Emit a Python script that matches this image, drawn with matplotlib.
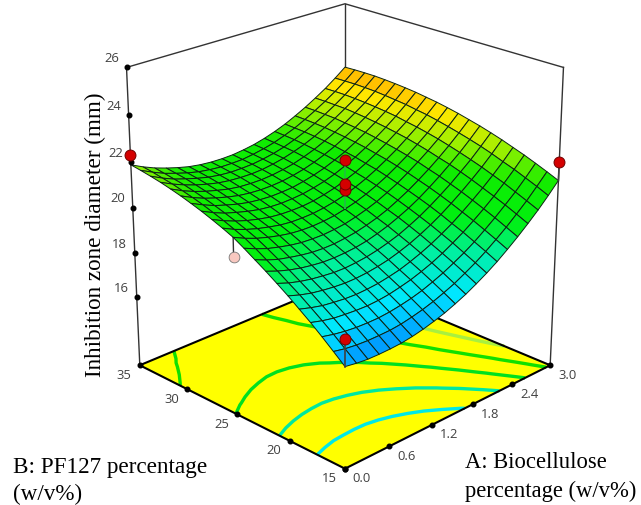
import numpy as np
import matplotlib
matplotlib.use("Agg")
import matplotlib.pyplot as plt
from matplotlib.colors import LinearSegmentedColormap, Normalize
from mpl_toolkits.mplot3d import proj3d

# grid values
a_values = [0.0, 0.15, 0.3, 0.45, 0.6, 0.75, 0.9, 1.05, 1.2, 1.35, 1.5, 1.65, 1.8, 1.95, 2.1, 2.25, 2.4, 2.55, 2.7, 2.85, 3.0]
b_values = [15, 16, 17, 18, 19, 20, 21, 22, 23, 24, 25, 26, 27, 28, 29, 30, 31, 32, 33, 34, 35]
z_rows = [
	[17.20,17.12,17.07,17.06,17.07,17.10,17.17,17.27,17.40,17.55,17.74,17.95,18.20,18.47,18.77,19.11,19.47,19.86,20.27,20.72,21.20],
	[17.53,17.44,17.39,17.37,17.38,17.40,17.46,17.56,17.68,17.83,18.01,18.21,18.46,18.72,19.02,19.35,19.70,20.09,20.49,20.94,21.41],
	[17.85,17.76,17.70,17.67,17.67,17.69,17.75,17.84,17.95,18.09,18.27,18.47,18.71,18.96,19.25,19.58,19.93,20.31,20.70,21.14,21.61],
	[18.16,18.06,17.99,17.97,17.96,17.97,18.02,18.10,18.22,18.35,18.52,18.71,18.94,19.20,19.48,19.80,20.14,20.51,20.91,21.34,21.80],
	[18.45,18.35,18.27,18.24,18.22,18.23,18.28,18.35,18.46,18.58,18.75,18.94,19.16,19.41,19.68,20.00,20.34,20.70,21.09,21.51,21.97],
	[18.74,18.63,18.55,18.51,18.49,18.49,18.53,18.60,18.70,18.82,18.98,19.16,19.38,19.62,19.89,20.20,20.53,20.89,21.27,21.69,22.14],
	[19.01,18.89,18.81,18.76,18.74,18.73,18.76,18.83,18.92,19.04,19.19,19.36,19.58,19.81,20.08,20.38,20.70,21.06,21.43,21.85,22.29],
	[19.27,19.15,19.06,19.00,18.97,18.96,18.99,19.05,19.13,19.24,19.39,19.56,19.77,19.99,20.25,20.55,20.87,21.22,21.58,21.99,22.43],
	[19.51,19.38,19.28,19.23,19.19,19.17,19.19,19.24,19.33,19.43,19.57,19.73,19.93,20.16,20.41,20.70,21.01,21.35,21.72,22.12,22.55],
	[19.75,19.62,19.51,19.45,19.40,19.38,19.40,19.44,19.52,19.61,19.75,19.91,20.10,20.32,20.56,20.85,21.16,21.49,21.85,22.24,22.67],
	[19.97,19.83,19.72,19.65,19.60,19.57,19.58,19.62,19.69,19.78,19.91,20.06,20.25,20.46,20.70,20.98,21.28,21.61,21.96,22.35,22.77],
	[20.18,20.03,19.92,19.84,19.79,19.75,19.75,19.79,19.85,19.94,20.06,20.20,20.39,20.59,20.83,21.10,21.39,21.72,22.06,22.45,22.86],
	[20.37,20.22,20.10,20.01,19.95,19.91,19.91,19.94,19.99,20.07,20.19,20.33,20.51,20.70,20.93,21.20,21.49,21.81,22.14,22.52,22.93],
	[20.56,20.40,20.27,20.19,20.12,20.07,20.06,20.08,20.14,20.21,20.32,20.45,20.62,20.82,21.04,21.30,21.58,21.89,22.23,22.60,23.00],
	[20.73,20.57,20.43,20.34,20.26,20.21,20.20,20.21,20.26,20.32,20.43,20.56,20.72,20.91,21.12,21.38,21.66,21.96,22.29,22.65,23.05],
	[20.89,20.72,20.58,20.48,20.40,20.34,20.32,20.33,20.37,20.43,20.53,20.65,20.81,20.99,21.20,21.45,21.72,22.02,22.34,22.70,23.09],
	[21.04,20.86,20.72,20.61,20.53,20.46,20.43,20.44,20.47,20.53,20.62,20.73,20.89,21.06,21.27,21.51,21.77,22.07,22.38,22.74,23.12],
	[21.18,21.00,20.85,20.73,20.64,20.57,20.54,20.54,20.56,20.61,20.70,20.81,20.96,21.12,21.32,21.56,21.82,22.11,22.41,22.76,23.14],
	[21.30,21.11,20.95,20.84,20.74,20.66,20.62,20.61,20.64,20.68,20.76,20.86,21.00,21.17,21.36,21.59,21.84,22.12,22.43,22.77,23.14],
	[21.41,21.22,21.05,20.93,20.82,20.74,20.70,20.68,20.70,20.73,20.81,20.91,21.04,21.20,21.38,21.61,21.86,22.13,22.43,22.76,23.13],
	[21.51,21.31,21.14,21.01,20.90,20.81,20.76,20.74,20.75,20.78,20.85,20.94,21.07,21.22,21.40,21.62,21.86,22.13,22.42,22.75,23.11],
]
# the mesh sits higher than the floor contours along the A=0 side
edge_lift = [0.0, 0.08, 0.16, 0.23, 0.29, 0.35, 0.40, 0.45, 0.50, 0.55, 0.60, 0.59, 0.58, 0.56, 0.54, 0.52, 0.49, 0.46, 0.43, 0.40, 0.37]
lift_fade = [1.0, 0.85, 0.72, 0.6, 0.49, 0.39, 0.3, 0.22, 0.15, 0.1, 0.06, 0.03, 0, 0, 0, 0, 0, 0, 0, 0, 0]

# measured design points
point_a = [0.0, 3.0, 1.5, 1.5, 1.5, 0.0]
point_b = [35, 15, 25, 25, 25, 15]
point_z = [22.3, 21.98, 22.1, 21.05, 20.8, 18.35]
low_a = [0.0]
low_b = [25]
low_z = [19.75]

levels = [18, 19, 20, 21, 22]
level_colors = ["#00e8e8", "#00e8a0", "#00e020", "#10e000", "#a8f040"]
z_ticks = [16, 18, 20, 22, 24, 26]
a_ticks = [0.0, 0.6, 1.2, 1.8, 2.4, 3.0]
b_ticks = [15, 20, 25, 30, 35]
z_low = 12.85
z_high = 26

fig = plt.figure(figsize=(6.41, 5.05), dpi=100)
size = 517
ax = fig.add_axes([(338 - size / 2) / 641, 1 - (228 + size / 2) / 505, size / 641, size / 505], projection="3d")
ax.computed_zorder = False
ax.set_axis_off()
ax.set_box_aspect((1, 1, 1.08))
ax.set_proj_type("persp", focal_length=0.72)
ax.view_init(elev=23, azim=-135)
ax.set_xlim(0, 3)
ax.set_ylim(15, 35)
ax.set_zlim(z_low, z_high)

A, B = np.meshgrid(a_values, b_values)
Z = np.array(z_rows)
mesh = Z + np.outer(edge_lift, lift_fade)

# floor
ax.plot_surface(np.array([[0, 3], [0, 3]]), np.array([[15, 15], [35, 35]]), np.full((2, 2), z_low),
	color="#ffff00", shade=False, linewidth=0, zorder=1)
ax.contour(A, B, Z, levels=levels, colors=level_colors, linewidths=2.4, zdir="z", offset=z_low, zorder=2)
ax.plot([0, 3, 3, 0, 0], [15, 15, 35, 35, 15], [z_low] * 5, color="black", lw=1.5, zorder=2.5)

# box
for x, y in [(0, 35), (3, 35), (3, 15)]:
	ax.plot([x, x], [y, y], [z_low, z_high], color="#333333", lw=1, zorder=1.5)
ax.plot([0, 3, 3], [35, 35, 15], [z_high] * 3, color="#333333", lw=1, zorder=1.5)

# pink point sits under the surface
ax.plot([low_a[0], low_a[0]], [low_b[0], low_b[0]], [low_z[0], 20.57], color="#333333", lw=1, zorder=2.6)
ax.scatter(low_a, low_b, low_z, s=60, c="#f8c8c0", edgecolors="#777777", linewidths=0.6, depthshade=False, zorder=2.7)

# surface
cmap = LinearSegmentedColormap.from_list("de", [
	(0.0, "#0080ff"), (0.17, "#00e8ff"), (0.33, "#00f0a0"), (0.47, "#00f010"),
	(0.66, "#10ec00"), (0.8, "#a8f000"), (0.9, "#ffe800"), (1.0, "#ffa800")])
norm = Normalize(16.9, 23.2)
cell = (mesh[:-1, :-1] + mesh[1:, :-1] + mesh[:-1, 1:] + mesh[1:, 1:]) / 4
ax.plot_surface(A, B, mesh, rstride=1, cstride=1, facecolors=cmap(norm(cell)), shade=False,
	edgecolor="#0c2414", linewidth=0.7, zorder=3)

# points and their stems
surf_z = [21.88, 21.2, 20.0, 20.0, 20.0, 17.2]
for x, y, z, s in zip(point_a, point_b, point_z, surf_z):
	stem = "#20c040" if x == 1.5 else "#404040"
	ax.plot([x, x], [y, y], [s, z], color=stem, lw=1.2, zorder=4)
ax.scatter(point_a, point_b, point_z, s=62, c="#d40000", edgecolors="#700000", linewidths=0.7, depthshade=False, zorder=5)

# tick dots and labels
def tick(x, y, z, label, dx, dy):
	px, py, _ = proj3d.proj_transform(x, y, z, ax.get_proj())
	ax.annotate(label, xy=(px, py), xytext=(dx / 1.389, -dy / 1.389), textcoords="offset points",
		ha="center", va="center", fontsize=9.4, color="#404040", family="Open Sans")

ax.scatter([0] * len(z_ticks), [35] * len(z_ticks), z_ticks, s=11, c="black", depthshade=False, zorder=4)
ax.scatter(a_ticks, [15] * len(a_ticks), [z_low] * len(a_ticks), s=11, c="black", depthshade=False, zorder=4)
ax.scatter([0] * len(b_ticks), b_ticks, [z_low] * len(b_ticks), s=11, c="black", depthshade=False, zorder=4)

for z in z_ticks:
	tick(0, 35, z, str(z), -15, -9)
for a in a_ticks:
	tick(a, 15, z_low, "%.1f" % a, 17, 10)
for b in b_ticks:
	tick(0, b, z_low, str(b), -16, 10)

serif = "Liberation Serif"
fig.text(95 / 641, 1 - 235 / 505, "Inhibition zone diameter (mm)", rotation=90, ha="center", va="center", fontsize=16.7, family=serif)
fig.text(13 / 641, 1 - 468 / 505, "B: PF127 percentage", ha="left", va="center", fontsize=16.7, family=serif)
fig.text(13 / 641, 1 - 494 / 505, "(w/v%)", ha="left", va="center", fontsize=16.7, family=serif)
fig.text(465 / 641, 1 - 463 / 505, "A: Biocellulose", ha="left", va="center", fontsize=16.3, family=serif)
fig.text(465 / 641, 1 - 491 / 505, "percentage (w/v%)", ha="left", va="center", fontsize=16.3, family=serif)

fig.savefig("out.png", dpi=100)
